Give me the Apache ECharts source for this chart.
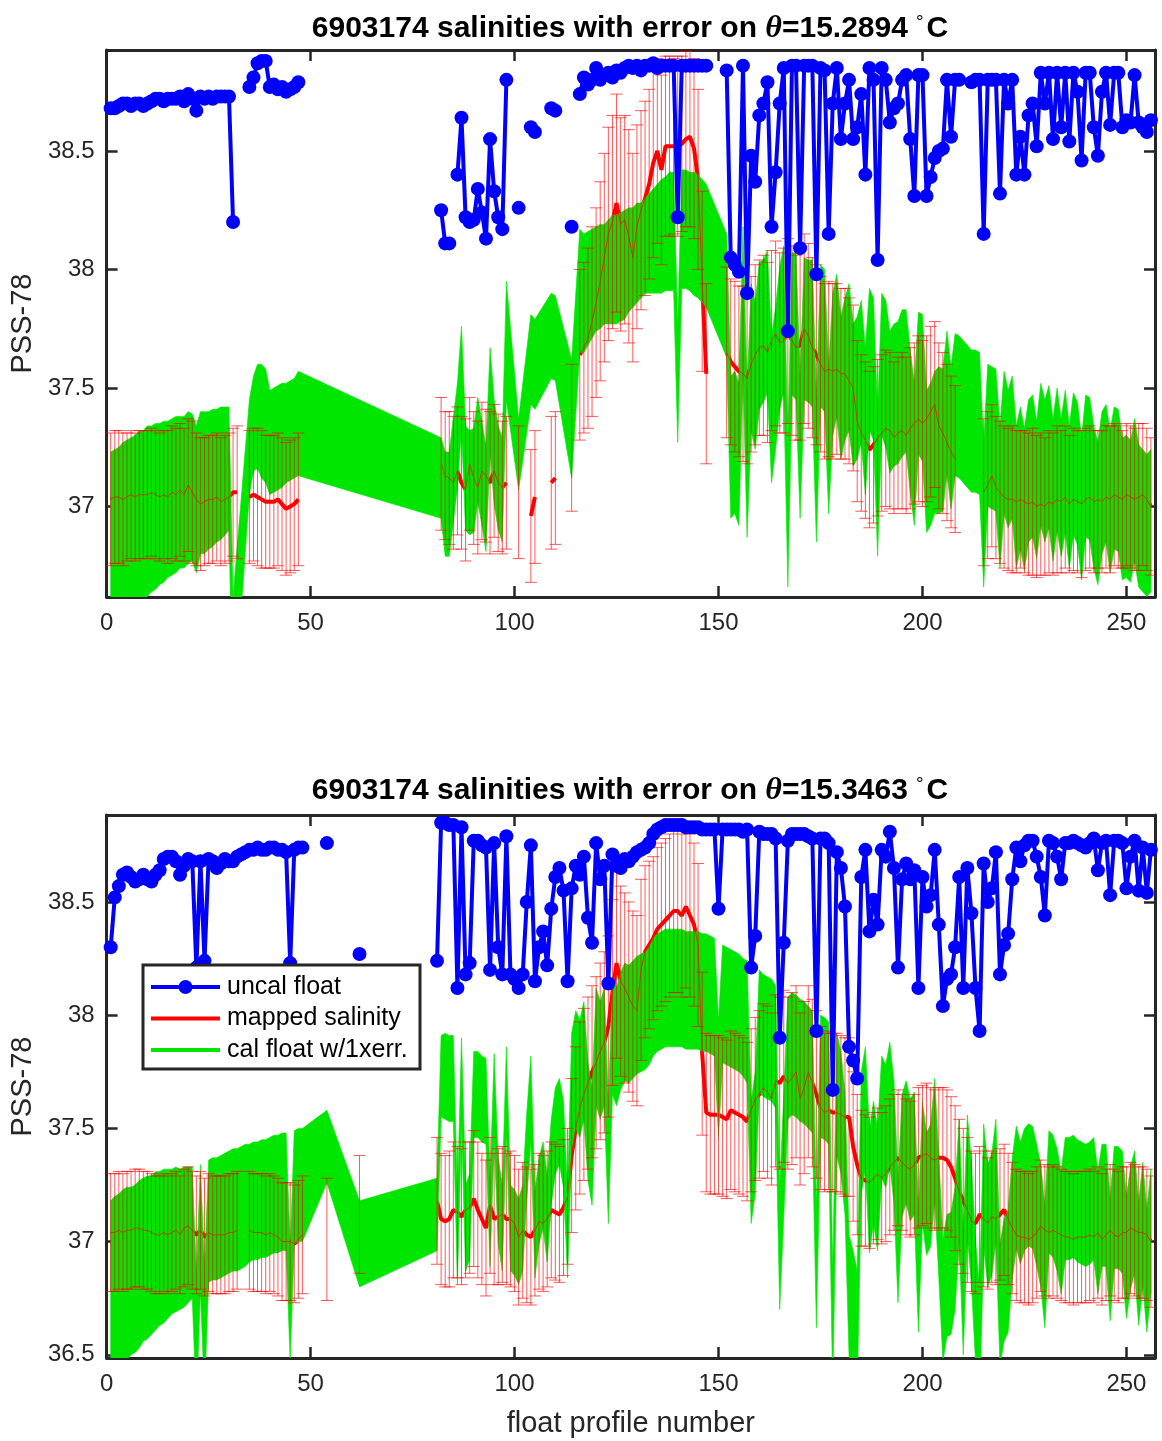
<!DOCTYPE html>
<html><head><meta charset="utf-8">
<script src="https://cdn.jsdelivr.net/npm/echarts@6/dist/echarts.min.js"></script>
<style>html,body{margin:0;padding:0;background:#fff}#c{width:1162px;height:1441px}</style>
</head><body><div id="c"></div>
<script>
const _ = null;
// ---------- TOP PANEL (theta = 15.2894) ----------
const topUncal = [
38.68,38.68,38.69,38.70,38.70,38.69,38.70,38.70,38.69,38.70,
38.71,38.72,38.72,38.71,38.72,38.72,38.72,38.73,38.71,38.74,
38.72,38.67,38.73,38.72,38.73,38.72,38.73,38.73,38.73,38.73,
38.20,_,_,_,38.77,38.81,38.87,38.88,38.88,38.77,
38.78,38.76,38.77,38.75,38.76,38.77,38.79,_,_,_,
_,_,_,_,_,_,_,_,_,_,
_,_,_,_,_,_,_,_,_,_,
_,_,_,_,_,_,_,_,_,_,
_,38.25,38.11,38.11,_,38.40,38.64,38.22,38.20,38.21,
38.34,38.24,38.13,38.55,38.33,38.22,38.17,38.80,_,_,
38.26,_,_,38.60,38.58,_,_,_,38.68,38.67,
_,_,_,38.18,_,38.74,38.81,38.78,38.80,38.85,
38.80,38.82,38.83,38.81,38.84,38.83,38.85,38.86,38.85,38.86,
38.84,38.86,38.86,38.87,38.85,38.86,38.86,38.86,38.86,38.22,
38.86,38.86,38.86,38.86,38.86,38.86,38.86,_,_,_,
_,38.84,38.05,38.02,37.99,38.86,37.90,38.48,38.37,38.65,
38.70,38.79,38.18,38.41,38.70,38.85,37.74,38.86,38.86,38.09,
38.86,38.86,38.86,37.98,38.85,38.84,38.15,38.70,38.85,38.55,
38.70,38.80,38.55,38.60,38.74,38.40,38.85,38.80,38.04,38.85,
38.80,38.62,38.68,38.70,38.80,38.82,38.55,38.31,38.82,38.82,
38.31,38.39,38.47,38.50,38.51,38.80,38.56,38.80,38.80,_,
_,38.79,38.80,38.80,38.15,38.80,38.80,38.80,38.32,38.80,
38.70,38.80,38.40,38.56,38.40,38.65,38.70,38.52,38.83,38.70,
38.83,38.55,38.83,38.60,38.83,38.54,38.83,38.75,38.46,38.83,
38.83,38.60,38.48,38.75,38.83,38.61,38.83,38.83,38.60,38.63,
38.62,38.82,38.62,38.60,38.58,38.63];
const topMapped = [
37.03,37.04,37.04,37.03,37.04,37.05,37.04,37.05,37.05,37.05,
37.06,37.05,37.04,37.05,37.04,37.06,37.05,37.07,37.05,37.09,
37.06,37.03,37.01,37.02,37.03,37.03,37.04,37.02,37.03,37.04,
37.06,37.06,_,_,37.04,37.05,37.04,37.03,37.02,37.02,
37.02,37.03,37.01,36.99,37.00,37.01,37.03,_,_,_,
_,_,_,_,_,_,_,_,_,_,
_,_,_,_,_,_,_,_,_,_,
_,_,_,_,_,_,_,_,_,_,
_,37.18,37.13,37.12,37.10,37.15,37.10,37.07,37.18,37.12,
37.08,37.15,37.13,37.10,37.15,37.10,37.08,37.10,_,_,
37.06,_,_,36.96,37.04,_,_,_,37.10,37.12,
_,_,_,37.29,_,37.64,37.67,37.71,37.78,37.86,
37.95,38.05,38.15,38.20,38.28,38.19,38.21,38.14,38.05,38.18,
38.25,38.30,38.36,38.45,38.50,38.42,38.52,38.52,38.52,38.52,
38.53,38.55,38.56,38.51,38.38,37.95,37.56,_,_,_,
_,37.65,37.61,37.59,37.57,37.56,37.54,37.60,37.64,37.67,
37.68,37.65,37.70,37.73,37.69,37.70,37.74,37.70,37.67,37.68,
37.75,37.72,37.67,37.64,37.60,37.57,37.58,37.57,37.58,37.56,
37.56,37.53,37.50,37.36,37.31,37.28,37.24,37.26,37.29,37.31,
37.33,37.32,37.29,37.31,37.32,37.30,37.33,37.35,37.37,37.35,
37.37,37.40,37.43,37.34,37.31,37.27,37.23,37.20,_,_,
_,_,_,_,37.06,37.09,37.13,37.08,37.06,37.04,
37.03,37.03,37.02,37.03,37.02,37.01,37.02,37.00,37.01,37.00,
37.02,37.01,37.03,37.02,37.04,37.01,37.03,37.02,37.01,37.03,
37.04,37.02,37.03,37.02,37.04,37.03,37.05,37.04,37.03,37.05,
37.04,37.03,37.04,37.05,37.03,37.00];
const topMappedErr = [
0.28,0.28,0.28,0.28,0.27,0.27,0.27,0.27,0.27,0.27,
0.27,0.27,0.27,0.27,0.28,0.28,0.28,0.28,0.28,0.28,
0.30,0.28,0.28,0.27,0.27,0.27,0.27,0.27,0.27,0.27,
0.27,0.28,_,_,0.28,0.28,0.29,0.29,0.28,0.28,
0.28,0.28,0.28,0.28,0.28,0.28,0.28,_,_,_,
_,_,_,_,_,_,_,_,_,_,
_,_,_,_,_,_,_,_,_,_,
_,_,_,_,_,_,_,_,_,_,
_,0.28,0.27,0.28,0.28,0.27,0.28,0.30,0.28,0.28,
0.28,0.29,0.28,0.30,0.28,0.29,0.28,0.28,_,_,
0.28,_,_,0.28,0.28,_,_,_,0.28,0.28,
_,_,_,0.31,_,0.36,0.36,0.38,0.40,0.40,
0.42,0.44,0.45,0.45,0.46,0.45,0.44,0.45,0.44,0.43,
0.42,0.41,0.40,0.40,0.39,0.40,0.38,0.38,0.37,0.38,
0.37,0.37,0.38,0.38,0.38,0.38,0.38,_,_,_,
_,0.36,0.35,0.36,0.36,0.37,0.36,0.37,0.38,0.37,
0.38,0.38,0.38,0.39,0.38,0.39,0.39,0.40,0.39,0.40,
0.40,0.39,0.38,0.38,0.37,0.37,0.37,0.37,0.36,0.36,
0.36,0.35,0.35,0.34,0.33,0.33,0.33,0.33,0.33,0.33,
0.33,0.33,0.32,0.32,0.33,0.33,0.34,0.34,0.35,0.35,
0.35,0.36,0.35,0.35,0.34,0.33,0.32,0.31,_,_,
_,_,_,_,0.31,0.31,0.30,0.30,0.30,0.30,
0.30,0.31,0.30,0.29,0.30,0.30,0.31,0.30,0.30,0.29,
0.30,0.30,0.31,0.30,0.30,0.29,0.30,0.30,0.31,0.30,
0.30,0.30,0.29,0.30,0.30,0.31,0.30,0.30,0.29,0.30,
0.30,0.30,0.31,0.30,0.30,0.29];
const topCal = [
36.84,36.85,36.87,36.89,36.90,36.92,36.93,36.95,36.96,36.98,
36.99,37.00,37.01,37.02,37.03,37.04,37.05,37.06,37.06,37.08,
37.08,37.03,37.10,37.10,37.11,37.12,37.13,37.14,37.15,37.16,
36.35,_,_,_,37.25,37.35,37.38,37.36,37.34,37.27,
37.28,37.29,37.30,37.31,37.32,37.33,37.35,_,_,_,
_,_,_,_,_,_,_,_,_,_,
_,_,_,_,_,_,_,_,_,_,
_,_,_,_,_,_,_,_,_,_,
_,37.12,37.01,37.01,_,37.30,37.54,37.12,37.10,37.11,
37.24,37.14,37.03,37.45,37.23,37.12,37.07,37.70,_,_,
37.22,_,_,37.62,37.60,_,_,_,37.72,37.71,
_,_,_,37.37,_,37.91,37.90,37.92,37.94,37.96,
37.97,37.98,37.99,38.00,38.00,38.01,38.02,38.04,38.05,38.07,
38.08,38.10,38.11,38.12,38.13,38.14,38.15,38.16,38.16,37.52,
38.17,38.17,38.16,38.15,38.14,38.12,38.10,_,_,_,
_,37.89,37.25,37.27,37.22,37.87,37.18,37.63,37.55,37.72,
37.74,37.78,37.41,37.54,37.71,37.79,36.96,37.77,37.76,37.25,
37.75,37.74,37.73,37.15,37.72,37.70,37.28,37.60,37.68,37.50,
37.58,37.63,37.47,37.50,37.57,37.36,37.62,37.58,37.09,37.60,
37.56,37.44,37.47,37.48,37.52,37.53,37.36,37.22,37.52,37.50,
37.19,37.22,37.27,37.28,37.28,37.44,37.29,37.43,37.42,_,
_,37.36,37.36,37.35,36.96,37.30,37.29,37.28,37.04,37.27,
37.20,37.25,37.04,37.12,37.03,37.15,37.17,37.07,37.22,37.15,
37.21,37.07,37.20,37.08,37.19,37.04,37.18,37.14,36.99,37.17,
37.16,37.04,36.97,37.10,37.14,37.02,37.12,37.11,36.99,37.00,
36.98,37.07,36.96,36.94,36.92,36.94];
const topCalErr = [
0.39,0.39,0.38,0.38,0.38,0.37,0.37,0.37,0.36,0.36,
0.35,0.35,0.34,0.34,0.33,0.33,0.33,0.32,0.32,0.32,
0.31,0.31,0.30,0.30,0.29,0.29,0.28,0.28,0.27,0.26,
0.27,_,_,_,0.20,0.20,0.22,0.24,0.24,0.22,
0.22,0.22,0.22,0.21,0.21,0.21,0.22,_,_,_,
_,_,_,_,_,_,_,_,_,_,
_,_,_,_,_,_,_,_,_,_,
_,_,_,_,_,_,_,_,_,_,
_,0.17,0.22,0.22,_,0.22,0.22,0.22,0.22,0.22,
0.22,0.22,0.22,0.22,0.22,0.22,0.22,0.25,_,_,
0.15,_,_,0.19,0.19,_,_,_,0.18,0.18,
_,_,_,0.25,_,0.26,0.25,0.24,0.23,0.22,
0.22,0.21,0.22,0.23,0.23,0.23,0.23,0.22,0.21,0.21,
0.20,0.20,0.21,0.22,0.23,0.24,0.24,0.25,0.25,0.25,
0.25,0.25,0.25,0.26,0.26,0.26,0.26,_,_,_,
_,0.26,0.30,0.30,0.30,0.31,0.31,0.31,0.31,0.31,
0.30,0.30,0.31,0.30,0.30,0.31,0.30,0.30,0.31,0.30,
0.30,0.30,0.31,0.30,0.30,0.30,0.31,0.30,0.30,0.30,
0.30,0.31,0.30,0.30,0.30,0.31,0.30,0.30,0.30,0.30,
0.31,0.30,0.30,0.30,0.31,0.30,0.30,0.30,0.30,0.31,
0.30,0.30,0.30,0.31,0.30,0.30,0.30,0.30,0.30,_,
_,0.30,0.30,0.30,0.30,0.30,0.30,0.30,0.30,0.30,
0.29,0.30,0.30,0.30,0.30,0.30,0.30,0.29,0.30,0.30,
0.30,0.30,0.30,0.29,0.30,0.30,0.30,0.30,0.30,0.30,
0.30,0.30,0.30,0.30,0.29,0.30,0.30,0.30,0.30,0.30,
0.30,0.30,0.30,0.30,0.30,0.30];
// ---------- BOTTOM PANEL (theta = 15.3463) ----------
const botUncal = [
38.30,38.52,38.57,38.62,38.63,38.61,38.59,38.60,38.62,38.60,
38.59,38.62,38.64,38.69,38.70,38.70,38.68,38.62,38.66,38.69,
38.68,38.21,38.68,38.24,38.69,38.68,38.65,38.67,38.69,38.68,
38.68,38.70,38.71,38.72,38.73,38.73,38.74,38.73,38.73,38.74,
38.74,38.73,38.73,38.72,38.23,38.73,38.74,38.74,_,_,
_,_,_,38.76,_,_,_,_,_,_,
_,38.27,_,_,_,_,_,_,_,_,
_,_,_,_,_,_,_,_,_,_,
38.24,38.85,38.85,38.84,38.84,38.12,38.83,38.18,38.23,38.77,
38.77,38.75,38.74,38.20,38.76,38.30,38.18,38.79,38.18,38.16,
38.12,38.18,38.50,38.75,38.15,38.30,38.37,38.22,38.47,38.61,
38.65,38.55,38.15,38.56,38.66,38.62,38.70,38.43,38.32,38.76,
38.60,38.66,38.14,38.71,38.66,38.65,38.69,38.68,38.70,38.72,
38.73,38.74,38.76,38.80,38.82,38.83,38.84,38.84,38.84,38.84,
38.84,38.83,38.83,38.83,38.83,38.82,38.82,38.82,38.82,38.47,
38.82,38.82,38.82,38.82,38.82,38.81,38.82,38.21,38.35,38.81,
38.80,38.80,38.80,38.78,37.90,38.32,38.77,38.80,38.80,38.80,
38.80,38.79,38.78,37.93,38.78,38.78,38.76,37.67,38.72,38.65,
38.48,37.86,37.80,37.72,38.61,38.73,38.37,38.51,38.40,38.73,
38.70,38.81,38.65,38.21,38.60,38.67,38.60,38.64,38.12,38.61,
38.48,38.53,38.73,38.40,38.04,38.16,38.18,38.30,38.61,38.12,
38.65,38.45,38.12,37.93,38.67,38.50,38.56,38.72,38.18,38.31,
38.36,38.60,38.74,38.68,38.75,38.77,38.77,38.70,38.61,38.44,
38.77,38.76,38.70,38.60,38.76,38.76,38.77,38.76,38.75,38.74,
38.76,38.78,38.64,38.76,38.77,38.53,38.77,38.77,38.76,38.56,
38.70,38.77,38.55,38.74,38.54,38.73];
const botMapped = [
37.04,37.04,37.05,37.04,37.05,37.05,37.06,37.06,37.05,37.05,
37.04,37.03,37.03,37.04,37.03,37.04,37.05,37.03,37.06,37.07,
37.05,37.03,37.05,37.02,37.04,37.03,37.03,37.03,37.03,37.04,
37.04,37.05,_,_,37.05,37.04,37.04,37.04,37.03,37.04,
37.03,37.02,37.00,37.00,37.00,36.99,37.01,37.03,_,_,
_,_,_,37.01,_,_,_,_,_,_,
_,37.12,_,_,_,_,_,_,_,_,
_,_,_,_,_,_,_,_,_,_,
37.18,37.10,37.09,37.10,37.14,37.13,37.11,37.14,37.15,37.19,
37.14,37.10,37.06,37.16,37.10,37.11,37.12,37.10,37.10,37.08,
37.02,37.05,37.03,37.02,37.05,37.09,37.08,37.10,37.14,37.13,
37.12,37.15,37.20,37.38,37.50,37.59,37.65,37.70,37.75,37.79,
37.84,37.88,37.95,38.10,38.23,38.15,38.12,38.08,38.04,38.02,
38.20,38.28,38.31,38.34,38.38,38.40,38.42,38.44,38.46,38.46,
38.44,38.48,38.44,38.40,38.31,37.83,37.57,37.56,37.56,37.56,
37.55,37.54,37.58,37.57,37.56,37.55,37.53,37.58,37.63,37.65,
37.68,37.66,37.63,37.71,37.70,37.73,37.70,37.72,37.75,37.63,
37.68,37.75,37.70,37.65,37.59,37.57,37.58,37.57,37.57,37.56,
37.55,37.55,37.42,37.34,37.28,37.27,37.26,37.28,37.30,37.28,
37.30,37.33,37.35,37.37,37.35,37.33,37.32,37.34,37.37,37.38,
37.39,37.37,37.36,37.37,37.37,37.36,37.33,37.28,37.22,37.18,
37.14,37.09,37.08,37.12,37.10,37.08,37.11,37.10,37.12,37.14,
37.10,37.06,37.03,37.02,37.02,37.01,37.02,37.04,37.07,37.05,
37.04,37.05,37.04,37.03,37.02,37.02,37.01,37.02,37.02,37.02,
37.03,37.02,37.04,37.01,37.03,37.05,37.03,37.02,37.04,37.04,
37.06,37.05,37.04,37.04,37.03,37.00];
const botMappedErr = [
0.26,0.26,0.26,0.26,0.26,0.26,0.26,0.26,0.26,0.26,
0.26,0.26,0.26,0.26,0.26,0.26,0.26,0.26,0.26,0.26,
0.26,0.26,0.26,0.26,0.26,0.26,0.26,0.26,0.26,0.26,
0.26,0.26,_,_,0.26,0.26,0.26,0.26,0.26,0.26,
0.26,0.26,0.26,0.26,0.26,0.26,0.26,0.26,_,_,
_,_,_,0.27,_,_,_,_,_,_,
_,0.26,_,_,_,_,_,_,_,_,
_,_,_,_,_,_,_,_,_,_,
0.28,0.29,0.29,0.30,0.30,0.29,0.30,0.30,0.29,0.30,
0.30,0.29,0.30,0.30,0.29,0.30,0.30,0.29,0.30,0.30,
0.30,0.30,0.30,0.30,0.29,0.30,0.30,0.30,0.30,0.30,
0.30,0.30,0.30,0.34,0.36,0.38,0.38,0.38,0.38,0.38,
0.39,0.40,0.40,0.41,0.42,0.42,0.42,0.42,0.42,0.42,
0.40,0.38,0.37,0.36,0.36,0.36,0.36,0.36,0.36,0.36,
0.36,0.36,0.36,0.36,0.36,0.36,0.35,0.35,0.35,0.35,
0.35,0.35,0.35,0.35,0.35,0.35,0.35,0.36,0.36,0.37,
0.37,0.38,0.38,0.38,0.38,0.38,0.38,0.38,0.38,0.38,
0.38,0.38,0.37,0.37,0.36,0.35,0.35,0.35,0.35,0.35,
0.35,0.35,0.33,0.31,0.30,0.29,0.29,0.29,0.29,0.29,
0.30,0.30,0.30,0.30,0.30,0.30,0.30,0.31,0.31,0.31,
0.31,0.31,0.31,0.31,0.31,0.31,0.31,0.32,0.32,0.32,
0.32,0.31,0.31,0.30,0.30,0.29,0.29,0.29,0.29,0.29,
0.29,0.29,0.29,0.29,0.29,0.29,0.29,0.29,0.29,0.29,
0.29,0.29,0.29,0.29,0.29,0.29,0.29,0.29,0.29,0.29,
0.29,0.29,0.29,0.29,0.29,0.29,0.29,0.29,0.29,0.29,
0.29,0.29,0.29,0.29,0.29,0.29];
const botCal = [
36.79,36.81,36.83,36.85,36.86,36.87,36.88,36.90,36.92,36.93,
36.94,36.96,36.97,36.98,36.99,37.00,37.01,37.01,37.02,37.03,
37.04,36.56,37.06,36.60,37.09,37.10,37.10,37.11,37.12,37.13,
37.14,37.14,37.15,37.16,37.17,37.18,37.18,37.19,37.19,37.20,
37.21,37.21,37.22,37.22,36.72,37.24,37.25,37.25,_,_,
_,_,_,37.42,_,_,_,_,_,_,
_,36.99,_,_,_,_,_,_,_,_,
_,_,_,_,_,_,_,_,_,_,
37.12,37.73,37.73,37.72,37.72,37.00,37.71,37.06,37.11,37.65,
37.65,37.63,37.62,37.08,37.64,37.18,37.06,37.67,37.06,37.04,
37.00,37.06,37.38,37.63,37.03,37.18,37.25,37.10,37.35,37.49,
37.53,37.43,37.03,37.66,37.76,37.72,37.80,37.53,37.42,37.86,
37.80,37.86,37.34,37.91,37.86,37.93,37.97,37.96,37.98,38.00,
38.01,38.02,38.04,38.08,38.10,38.11,38.12,38.12,38.12,38.12,
38.12,38.11,38.11,38.11,38.11,38.10,38.10,38.09,38.08,37.72,
38.05,38.04,38.03,38.02,38.01,37.99,37.97,37.35,37.48,37.93,
37.91,37.90,37.89,37.86,36.97,37.38,37.81,37.83,37.82,37.80,
37.79,37.77,37.75,36.89,37.73,37.72,37.70,36.60,37.65,37.57,
37.39,36.76,36.69,36.60,37.48,37.59,37.22,37.35,37.23,37.55,
37.51,37.61,37.44,37.00,37.38,37.44,37.36,37.39,36.87,37.35,
37.21,37.25,37.45,37.11,36.74,36.85,36.86,36.97,37.27,36.77,
37.29,37.08,36.74,36.53,37.25,37.07,37.12,37.27,36.72,36.83,
36.87,37.10,37.24,37.17,37.23,37.25,37.24,37.16,37.07,36.89,
37.22,37.20,37.14,37.04,37.19,37.19,37.20,37.18,37.17,37.16,
37.17,37.19,37.04,37.16,37.16,36.92,37.15,37.15,37.13,36.93,
37.06,37.13,36.90,37.08,36.87,37.05];
const botCalErr = [
0.39,0.39,0.38,0.38,0.38,0.37,0.37,0.37,0.36,0.36,
0.35,0.35,0.34,0.34,0.33,0.32,0.32,0.31,0.31,0.30,
0.29,0.29,0.28,0.28,0.27,0.27,0.27,0.27,0.27,0.27,
0.27,0.27,0.27,0.27,0.26,0.26,0.26,0.26,0.26,0.26,
0.26,0.26,0.26,0.26,0.25,0.25,0.25,0.25,_,_,
_,_,_,0.16,_,_,_,_,_,_,
_,0.19,_,_,_,_,_,_,_,_,
_,_,_,_,_,_,_,_,_,_,
0.16,0.18,0.19,0.19,0.19,0.19,0.19,0.19,0.19,0.19,
0.19,0.19,0.19,0.19,0.19,0.19,0.19,0.19,0.19,0.19,
0.19,0.19,0.19,0.19,0.19,0.19,0.19,0.19,0.19,0.19,
0.19,0.19,0.19,0.26,0.26,0.26,0.26,0.26,0.26,0.26,
0.26,0.26,0.26,0.26,0.26,0.26,0.26,0.26,0.26,0.26,
0.26,0.26,0.26,0.26,0.26,0.26,0.26,0.26,0.26,0.26,
0.26,0.26,0.26,0.26,0.26,0.26,0.26,0.26,0.26,0.26,
0.26,0.26,0.26,0.26,0.26,0.26,0.27,0.27,0.27,0.27,
0.27,0.27,0.27,0.27,0.27,0.27,0.27,0.27,0.27,0.27,
0.27,0.27,0.27,0.27,0.27,0.27,0.27,0.27,0.27,0.27,
0.27,0.27,0.27,0.27,0.27,0.27,0.27,0.27,0.27,0.27,
0.27,0.27,0.27,0.27,0.27,0.27,0.27,0.27,0.27,0.27,
0.27,0.27,0.27,0.27,0.27,0.27,0.27,0.27,0.27,0.27,
0.27,0.27,0.27,0.27,0.27,0.27,0.27,0.27,0.27,0.27,
0.27,0.27,0.27,0.27,0.27,0.27,0.27,0.27,0.27,0.27,
0.27,0.27,0.27,0.27,0.27,0.27,0.27,0.27,0.27,0.27,
0.27,0.27,0.27,0.27,0.27,0.27,0.27,0.27,0.27,0.27,
0.27,0.27,0.27,0.27,0.27,0.27];

const xTicks = [0, 50, 100, 150, 200, 250];
const topYTicks = [37, 37.5, 38, 38.5];
const botYTicks = [36.5, 37, 37.5, 38, 38.5];
const titles = ['15.2894', '15.3463'];
const floatId = '6903174';
const legendNames = ['uncal float', 'mapped salinity', 'cal float w/1xerr.'];

// ---------- rendering ----------
const FF = '"Liberation Sans", Arial, Helvetica, sans-serif';
const AX = '#262626';
const BLUE = '#0000ff', RED = '#ff0000', GREEN = '#00e600', ERRC = 'rgba(255,0,0,0.65)';
const profiles = topUncal.map((v, i) => i + 1);

function xy(vals) { return vals.map((v, i) => [profiles[i], v == null ? '-' : v]); }
function barData(vals, errs) {
  const o = [];
  vals.forEach((v, i) => { if (v != null && errs[i] != null) o.push([profiles[i], v - errs[i], v + errs[i]]); });
  return o;
}
function bandRenderer(cal, err) {
  return function (params, api) {
    const up = [], lo = [];
    for (let i = 0; i < cal.length; i++) {
      if (cal[i] == null || err[i] == null) continue;
      up.push(api.coord([profiles[i], cal[i] + err[i]]));
      lo.push(api.coord([profiles[i], cal[i] - err[i]]));
    }
    lo.reverse();
    return { type: 'polygon', shape: { points: up.concat(lo) }, style: { fill: GREEN, stroke: GREEN, lineWidth: 0.6 } };
  };
}
function errRender(params, api) {
  const x = api.value(0), a = api.coord([x, api.value(1)]), b = api.coord([x, api.value(2)]);
  const w = 6, st = { stroke: ERRC, lineWidth: 1 };
  return { type: 'group', children: [
    { type: 'line', shape: { x1: a[0], y1: a[1], x2: b[0], y2: b[1] }, style: st },
    { type: 'line', shape: { x1: a[0] - w, y1: a[1], x2: a[0] + w, y2: a[1] }, style: st },
    { type: 'line', shape: { x1: b[0] - w, y1: b[1], x2: b[0] + w, y2: b[1] }, style: st }
  ]};
}

const grids = [
  { left: 106, top: 50, width: 1049, height: 547 },
  { left: 106, top: 815, width: 1049, height: 543 }
];
const yRanges = [[36.618, 38.926], [36.486, 38.884]];
const yTickSets = [topYTicks, botYTicks];

const xAxes = [], yAxes = [];
for (let g = 0; g < 2; g++) {
  const lineStyle = { color: AX, width: 3 };
  const tick = { inside: true, length: 11, customValues: xTicks, lineStyle: { color: AX, width: 2.5 } };
  xAxes.push({ gridIndex: g, type: 'value', min: 0, max: 257, position: 'bottom',
    axisLine: { show: true, onZero: false, lineStyle }, axisTick: tick,
    axisLabel: { customValues: xTicks, fontSize: 24, color: AX, fontFamily: FF, margin: 14 },
    splitLine: { show: false },
    name: g === 1 ? 'float profile number' : '', nameLocation: 'middle', nameGap: 51,
    nameTextStyle: { fontSize: 29, color: AX, fontFamily: FF } });
  xAxes.push({ gridIndex: g, type: 'value', min: 0, max: 257, position: 'top',
    axisLine: { show: true, onZero: false, lineStyle }, axisTick: tick,
    axisLabel: { show: false }, splitLine: { show: false } });
  const yt = { inside: true, length: 11, customValues: yTickSets[g], lineStyle: { color: AX, width: 2.5 } };
  yAxes.push({ gridIndex: g, type: 'value', min: yRanges[g][0], max: yRanges[g][1], position: 'left',
    axisLine: { show: true, onZero: false, lineStyle }, axisTick: yt,
    axisLabel: { customValues: yTickSets[g], fontSize: 24, color: AX, fontFamily: FF, margin: 12 },
    splitLine: { show: false },
    name: 'PSS-78', nameLocation: 'middle', nameGap: 54,
    nameTextStyle: { fontSize: 29, color: AX, fontFamily: FF } });
  yAxes.push({ gridIndex: g, type: 'value', min: yRanges[g][0], max: yRanges[g][1], position: 'right',
    axisLine: { show: true, onZero: false, lineStyle }, axisTick: yt,
    axisLabel: { show: false }, splitLine: { show: false } });
}

const panels = [
  { uncal: topUncal, mapped: topMapped, mErr: topMappedErr, cal: topCal, cErr: topCalErr },
  { uncal: botUncal, mapped: botMapped, mErr: botMappedErr, cal: botCal, cErr: botCalErr }
];
const series = [];
panels.forEach((p, g) => {
  const ax = { xAxisIndex: 2 * g, yAxisIndex: 2 * g };
  series.push(Object.assign({ type: 'line', name: legendNames[1], data: xy(p.mapped), symbol: 'none',
    lineStyle: { width: 4, color: RED }, itemStyle: { color: RED }, z: 1, silent: true }, ax));
  series.push(Object.assign({ type: 'custom', name: legendNames[2], data: [[1, 37]], encode: { x: 0, y: 1 },
    renderItem: bandRenderer(p.cal, p.cErr), clip: true, z: 2, silent: true }, ax));
  series.push(Object.assign({ type: 'line', name: 'mapped thin ' + g, data: xy(p.mapped), symbol: 'none',
    lineStyle: { width: 1, color: ERRC }, z: 3, silent: true }, ax));
  series.push(Object.assign({ type: 'custom', name: 'mapped error ' + g, data: barData(p.mapped, p.mErr),
    encode: { x: 0, y: [1, 2] }, renderItem: errRender, clip: true, z: 3, silent: true }, ax));
  series.push(Object.assign({ type: 'line', name: legendNames[0], data: xy(p.uncal), symbol: 'circle',
    symbolSize: 14, showAllSymbol: true, lineStyle: { width: 4, color: BLUE }, itemStyle: { color: BLUE },
    z: 4, silent: true }, ax));
});

function titleEl(y, temp) {
  return { type: 'text', x: 630, y: y, z: 20, style: {
    text: '{b|' + floatId + ' salinities with error on }{t|θ}{b|=' + temp + '}{d|°}{b|C}',
    align: 'center', verticalAlign: 'middle', textAlign: 'center', textVerticalAlign: 'middle',
    fill: '#000',
    rich: {
      b: { fontFamily: FF, fontWeight: 'bold', fontSize: 30, fill: '#000' },
      t: { fontFamily: '"Liberation Serif", serif', fontStyle: 'italic', fontWeight: 'bold', fontSize: 32, fill: '#000' },
      d: { fontFamily: FF, fontSize: 19, fill: '#000', verticalAlign: 'top', padding: [0, 3, 0, 8] }
    } } };
}
// legend box (drawn in the bottom panel, as in the original)
const LG = { x: 143, y: 965, w: 277, h: 104, rowY: [987, 1018.5, 1050], x1: 151, x2: 220, tx: 227 };
const legendEls = [
  { type: 'rect', z: 30, shape: { x: LG.x, y: LG.y, width: LG.w, height: LG.h }, style: { fill: '#fff', stroke: AX, lineWidth: 3 } },
  { type: 'line', z: 31, shape: { x1: LG.x1, y1: LG.rowY[0], x2: LG.x2, y2: LG.rowY[0] }, style: { stroke: BLUE, lineWidth: 4 } },
  { type: 'circle', z: 31, shape: { cx: (LG.x1 + LG.x2) / 2, cy: LG.rowY[0], r: 7 }, style: { fill: BLUE } },
  { type: 'line', z: 31, shape: { x1: LG.x1, y1: LG.rowY[1], x2: LG.x2, y2: LG.rowY[1] }, style: { stroke: RED, lineWidth: 4 } },
  { type: 'line', z: 31, shape: { x1: LG.x1, y1: LG.rowY[2], x2: LG.x2, y2: LG.rowY[2] }, style: { stroke: GREEN, lineWidth: 4 } }
];
legendNames.forEach((n, i) => legendEls.push({ type: 'text', z: 31, x: LG.tx, y: LG.rowY[i],
  style: { text: n, font: '25px ' + FF, fill: '#000', verticalAlign: 'middle', textVerticalAlign: 'middle' } }));

const chart = echarts.init(document.getElementById('c'), null, { renderer: 'canvas' });
chart.setOption({
  animation: false,
  backgroundColor: '#fff',
  grid: grids,
  xAxis: xAxes,
  yAxis: yAxes,
  graphic: [titleEl(29, titles[0]), titleEl(791, titles[1])].concat(legendEls),
  series: series
});
</script></body></html>
